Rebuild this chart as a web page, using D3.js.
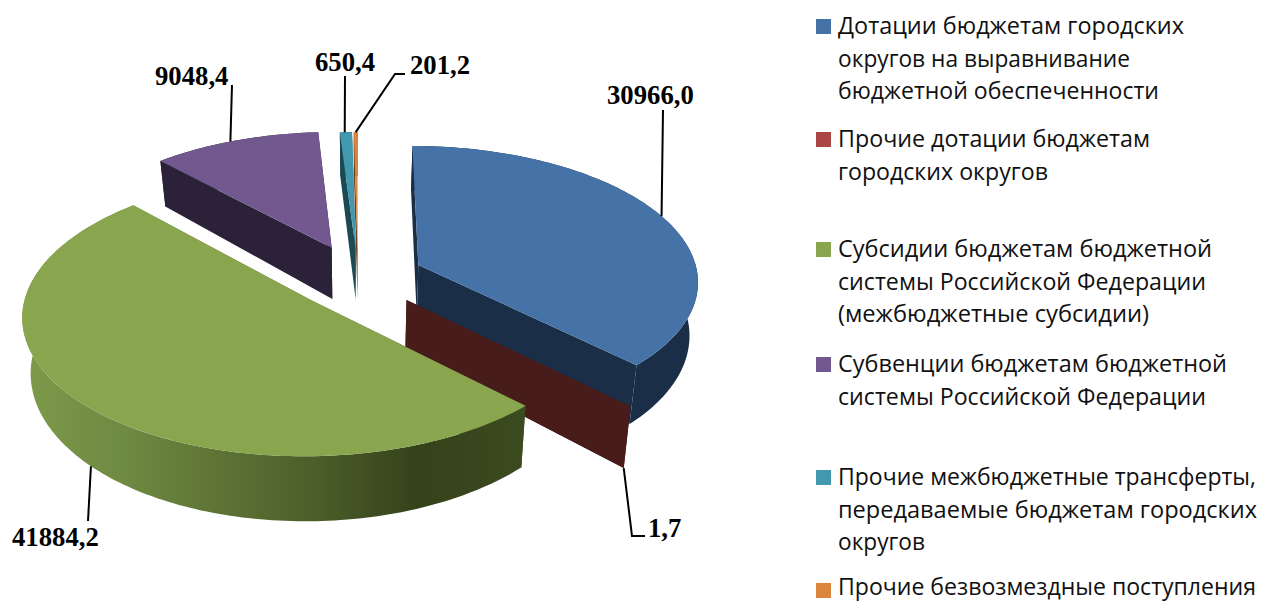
<!DOCTYPE html>
<html><head><meta charset="utf-8">
<script src="https://cdn.jsdelivr.net/npm/d3@7/dist/d3.min.js"></script>
<style>html,body{margin:0;padding:0;background:#fff;overflow:hidden}svg{display:block}</style>
</head><body><svg id="c" width="1263" height="601"></svg>
<script>
const categories = [
  "Дотации бюджетам городских округов на выравнивание бюджетной обеспеченности",
  "Прочие дотации бюджетам городских округов",
  "Субсидии бюджетам бюджетной системы Российской Федерации (межбюджетные субсидии)",
  "Субвенции бюджетам бюджетной системы Российской Федерации",
  "Прочие межбюджетные трансферты, передаваемые бюджетам городских округов",
  "Прочие безвозмездные поступления"
];
const values = [30966.0, 1.7, 41884.2, 9048.4, 650.4, 201.2];
const legendLines = [
  ["Дотации бюджетам городских","округов на выравнивание","бюджетной обеспеченности"],
  ["Прочие дотации бюджетам","городских округов"],
  ["Субсидии бюджетам бюджетной","системы Российской Федерации","(межбюджетные субсидии)"],
  ["Субвенции бюджетам бюджетной","системы Российской Федерации"],
  ["Прочие межбюджетные трансферты,","передаваемые бюджетам городских","округов"],
  ["Прочие безвозмездные поступления"]
];
const topColors  = ["#4572A7","#AA4643","#89A54E","#71588F","#4198AF","#DB843D"];
const sideColors = ["#1A2E47","#481C1A","url(#greenSide)","#2B2139","#1B4A55","#6B3F1B"];
const drawOrder = [3,4,5,0,1,2];

// layout of the projection
const view = {cx:358, cy:277, k:.48, p:.00039, R:280, H:53, taper:.025, explode:[66,67,66,68,62,62]};
// layout of the labels
const labelAnchors = [[607,104],[648,537],[12,546],[155,85],[315,71],[410,74]];
const leaderAngles = [.5,.5,.5,.47,.4,.5];
const leaderBends = [
  [[663,110]],
  [[632,536],[645,536]],
  [[88,521]],
  [[232,85]],
  [[345,76]],
  [[395,74],[405,74]]
];
const legendRows = [34,147,257,372,485,598];
const legendWidths = [[346,292,321],[312,210],[374,368,311],[389,368],[418,419,87],[418]];
const legendX = 838, swatchX = 816, swatchSize = 15, lineStep = 32.6, legendFloor = 595;

const svg = d3.select("#c");
const defs = svg.append("defs");
const grad = defs.append("linearGradient").attr("id","greenSide")
  .attr("gradientUnits","userSpaceOnUse").attr("x1",22).attr("x2",522).attr("y1",0).attr("y2",0);
[[0,"#7E9A4A"],[.2,"#6F8A42"],[.38,"#5F7536"],[.6,"#4A5C29"],[.79,"#35421A"],[1,"#3C4A20"]]
  .forEach(s=>grad.append("stop").attr("offset",s[0]).attr("stop-color",s[1]));

const pie = d3.pie().sort(null).value(d=>d).startAngle(0).endAngle(2*Math.PI);
const arcs = pie(values);
const rimScale = d3.scaleLinear().domain([0,1]).range([0,view.R]);

function project(u,v,z){
  const s = 1/(1 - view.p*v);
  return [view.cx + u*s*(1-view.taper*z), view.cy + view.k*v*s + z*view.H*Math.pow(s,1.5)];
}
function point(i,a,r,z){
  const d = arcs[i], mid=(d.startAngle+d.endAngle)/2, e=view.explode[i];
  return project(e*Math.sin(mid)+rimScale(r)*Math.sin(a), -e*Math.cos(mid)-rimScale(r)*Math.cos(a), z);
}
function rim(i,z){
  const d=arcs[i], n=Math.max(2,Math.ceil((d.endAngle-d.startAngle)/.02));
  return d3.range(n+1).map(j=>point(i,d.startAngle+(d.endAngle-d.startAngle)*j/n,1,z));
}
const line = d3.line();
const g = svg.append("g");
drawOrder.forEach(i=>{
  const d=arcs[i], top=rim(i,0), bot=rim(i,1);
  const c0=point(i,d.startAngle,0,0), c1=point(i,d.startAngle,0,1);
  const slice=g.append("g");
  slice.append("path").attr("d",line([c0,top[0],bot[0],c1])+"Z").attr("fill",sideColors[i]);
  slice.append("path").attr("d",line([c0,top[top.length-1],bot[bot.length-1],c1])+"Z").attr("fill",sideColors[i]);
  slice.append("path").attr("d",line(top.concat(bot.slice().reverse()))+"Z").attr("fill",sideColors[i]);
  slice.append("path").attr("d",line([c0].concat(top))+"Z").attr("fill",topColors[i]);
});

// leaders
const fmt = d3.formatLocale({decimal:",",thousands:"",grouping:[3],currency:["",""]}).format(".1f");
const leaderStart = i=>{
  const d=arcs[i];
  const a=d.startAngle+(d.endAngle-d.startAngle)*leaderAngles[i];
  return point(i,a,1,i===1||i===2?1:0);
};
values.forEach((v,i)=>{
  g.append("path").attr("d",line([leaderStart(i)].concat(leaderBends[i])))
    .attr("fill","none").attr("stroke","#000").attr("stroke-width",2);
  svg.append("text").attr("x",labelAnchors[i][0]).attr("y",labelAnchors[i][1]).text(fmt(v))
    .attr("font-family","'Liberation Serif',serif").attr("font-weight","bold").attr("font-size",26.7).attr("fill","#000");
});

// legend
categories.forEach((c,i)=>{
  const y=legendRows[i];
  svg.append("rect").attr("x",swatchX).attr("y",y-15).attr("width",swatchSize).attr("height",swatchSize).attr("fill",topColors[i]);
  legendLines[i].forEach((t,j)=>{
    svg.append("text").attr("x",legendX).attr("y",Math.min(legendFloor,y+j*lineStep)).text(t)
      .attr("textLength",legendWidths[i][j]).attr("lengthAdjust","spacingAndGlyphs")
      .attr("font-family","'Open Sans',sans-serif").attr("font-size",22.8).attr("fill","#111");
  });
});
</script></body></html>
